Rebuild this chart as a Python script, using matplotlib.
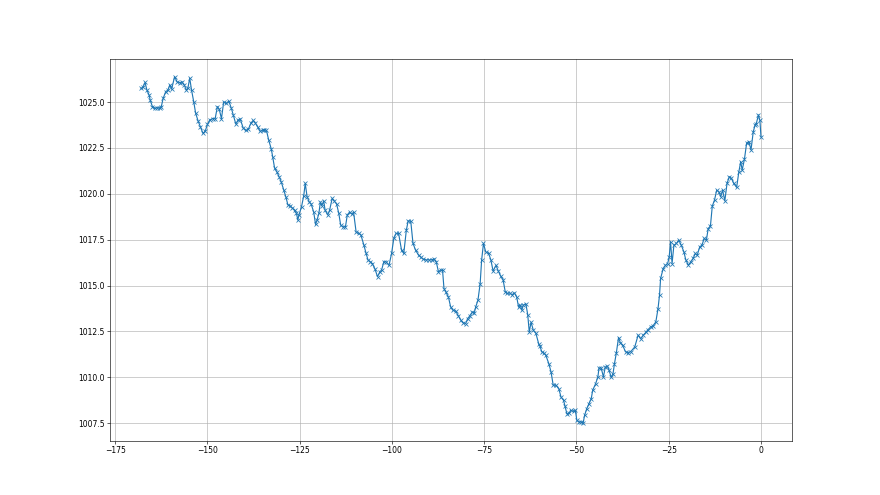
import matplotlib
matplotlib.use("Agg")
import matplotlib.pyplot as plt

# hours relative to now, pressure in hPa
hours = [
    -168.0, -167.5, -166.9, -166.4, -165.8, -165.5, -164.9, -164.3, -163.7, -162.9,
    -162.5, -162.0, -161.3, -160.7, -160.2, -159.7, -158.9, -158.2, -157.5, -156.9,
    -156.3, -155.7, -155.3, -154.8, -154.3, -153.7, -153.2, -152.5, -151.9, -151.2,
    -150.6, -150.0, -149.4, -148.6, -147.9, -147.3, -146.8, -146.2, -145.6, -144.9,
    -144.2, -143.5, -143.0, -142.3, -141.7, -141.1, -140.3, -139.6, -138.9, -138.2,
    -137.6, -137.0, -136.4, -135.7, -135.0,
    -134.6, -134.0, -133.4, -132.7, -132.3, -131.8, -131.2, -130.5, -130.0, -129.3,
    -128.7, -128.2, -127.6, -127.1, -126.4, -125.9, -125.5, -125.2, -124.5, -123.9,
    -123.5, -123.0, -122.4, -121.9, -121.2, -120.7, -120.3, -119.8, -119.4, -119.0,
    -118.5, -118.1, -117.4, -116.9, -116.2, -115.6, -115.0, -114.4, -113.9, -113.3,
    -112.6, -112.1, -111.5, -110.9, -110.4, -109.7, -109.0, -108.4, -107.6, -107.0,
    -106.5, -105.9, -105.3, -104.6, -103.9, -103.3, -102.8, -102.2, -101.6, -100.8,
    -100.1, -99.5, -98.9, -98.2, -97.4, -96.8, -96.1, -95.6, -94.9, -94.3,
    -93.6, -92.8, -92.2, -91.6, -90.8, -89.9, -89.2, -88.6, -88.0, -87.4,
    -86.8, -86.3, -85.9, -85.4, -84.7, -84.1, -83.5, -82.7, -82.0, -81.3,
    -80.7, -80.0, -79.5, -78.9, -78.2, -77.7, -77.3, -76.7, -76.1, -75.7,
    -75.2, -74.6, -73.8, -73.2, -72.6, -71.8, -71.2, -70.5,
    -69.9, -69.3, -68.7, -68.1, -67.5, -66.8, -66.2, -65.7, -65.3, -64.8,
    -64.4, -63.7, -63.2, -62.8, -62.3, -61.7, -61.0, -60.2, -59.9, -59.4,
    -58.7, -58.3, -57.5, -56.9, -56.3, -55.6, -54.8, -54.2, -53.5, -53.1,
    -52.6, -52.0, -51.6, -50.8, -50.3, -49.9, -49.4, -48.7, -48.2, -47.8,
    -47.2, -46.6, -46.0, -45.6, -44.8, -44.2, -43.9, -43.3, -42.7, -42.2,
    -41.6, -41.2, -40.6, -40.1, -39.7, -39.2, -38.6, -38.1, -37.5, -36.7,
    -36.1, -35.3, -34.2, -33.3, -32.6, -31.9, -31.2,
    -30.6, -29.9, -29.3, -28.5, -27.9, -27.5, -27.2, -26.5, -25.9, -25.3,
    -24.9, -24.5, -24.1, -23.6, -22.9, -22.3, -21.6, -20.9, -20.4, -19.7,
    -19.0, -18.4, -17.8, -17.3, -16.6, -16.0, -15.4, -14.8, -14.3, -13.7,
    -13.2, -12.6, -12.0, -11.4, -10.9, -10.4, -9.8, -9.2, -8.6, -8.0,
    -7.4, -6.6, -6.0, -5.5, -5.1, -4.5, -3.9, -3.3, -2.7, -2.1,
    -1.6, -1.3, -0.7, -0.3, 0.0,
]

pressure = [
    1025.75, 1025.8, 1026.07, 1025.65, 1025.38, 1025.1, 1024.75, 1024.65, 1024.7, 1024.65,
    1024.75, 1025.2, 1025.57, 1025.65, 1025.93, 1025.7, 1026.38, 1026.1, 1026.05, 1026.1,
    1025.93, 1025.65, 1025.75, 1026.3, 1025.65, 1025.0, 1024.4, 1023.95, 1023.65, 1023.29,
    1023.42, 1023.78, 1024.02, 1024.1, 1024.1, 1024.75, 1024.6, 1024.1, 1025.0, 1024.93,
    1025.05, 1024.65, 1024.29, 1023.8, 1024.02, 1024.07, 1023.58, 1023.45, 1023.53, 1023.85,
    1024.0, 1023.85, 1023.65, 1023.4, 1023.47,
    1023.5, 1023.45, 1022.93, 1022.44, 1022.0, 1021.4, 1021.2, 1020.9, 1020.65, 1020.2,
    1019.8, 1019.4, 1019.35, 1019.25, 1019.1, 1018.95, 1018.57, 1018.85, 1019.3, 1019.9,
    1020.57, 1019.85, 1019.55, 1019.45, 1019.0, 1018.33, 1018.57, 1018.93, 1019.55, 1019.35,
    1019.6, 1019.1, 1018.85, 1019.1, 1019.75, 1019.6, 1019.45, 1018.93, 1018.3, 1018.2,
    1018.2, 1018.85, 1019.0, 1018.9, 1019.0, 1017.9, 1017.85, 1017.75, 1017.2, 1016.75,
    1016.4, 1016.3, 1016.2, 1015.9, 1015.48, 1015.75, 1015.85, 1016.3, 1016.3, 1016.1,
    1016.75, 1017.57, 1017.84, 1017.84, 1016.93, 1016.75, 1018.02, 1018.53, 1018.5, 1017.3,
    1016.93, 1016.66, 1016.55, 1016.45, 1016.4, 1016.4, 1016.4, 1016.45, 1016.3, 1015.75,
    1015.85, 1015.85, 1014.84, 1014.65, 1014.38, 1013.84, 1013.66, 1013.6, 1013.35, 1013.1,
    1012.97, 1012.93, 1013.2, 1013.35, 1013.56, 1013.5, 1013.84, 1014.2, 1015.11, 1016.39,
    1017.3, 1016.84, 1016.75, 1016.4, 1015.8, 1016.1, 1015.8, 1015.5,
    1015.33, 1014.66, 1014.57, 1014.6, 1014.5, 1014.6, 1014.38, 1013.84, 1013.95, 1013.66,
    1013.94, 1014.0, 1013.4, 1012.48, 1013.0, 1012.57, 1012.4, 1011.8, 1011.7, 1011.39,
    1011.3, 1011.2, 1010.75, 1010.3, 1009.57, 1009.57, 1009.39, 1008.93, 1008.75, 1008.42,
    1008.02, 1008.04, 1008.2, 1008.15, 1008.2, 1007.66, 1007.57, 1007.57, 1007.5, 1007.93,
    1008.3, 1008.57, 1008.84, 1009.3, 1009.66, 1010.02, 1010.51, 1010.51, 1010.02, 1010.56,
    1010.6, 1010.4, 1010.0, 1010.2, 1010.75, 1011.33, 1012.17, 1011.88, 1011.75, 1011.39,
    1011.35, 1011.4, 1011.66, 1012.3, 1012.1, 1012.3, 1012.45,
    1012.6, 1012.75, 1012.8, 1013.02, 1013.75, 1014.48, 1015.39, 1015.93, 1016.1, 1016.2,
    1016.53, 1017.38, 1016.2, 1017.2, 1017.3, 1017.48, 1017.2, 1016.84, 1016.42, 1016.11,
    1016.3, 1016.48, 1016.75, 1016.65, 1017.11, 1017.2, 1017.57, 1017.48, 1018.11, 1018.25,
    1019.33, 1019.66, 1020.2, 1020.1, 1019.84, 1020.2, 1019.62, 1020.57, 1020.93, 1020.84,
    1020.57, 1020.35, 1021.2, 1021.75, 1021.3, 1021.87, 1022.75, 1022.85, 1022.4, 1023.38,
    1023.75, 1023.8, 1024.3, 1024.0, 1023.1,
]

fig = plt.figure(figsize=(16, 9), dpi=55)
plt.plot(hours, pressure, marker='x')
plt.grid(True)
plt.savefig('out.png', dpi=55)
